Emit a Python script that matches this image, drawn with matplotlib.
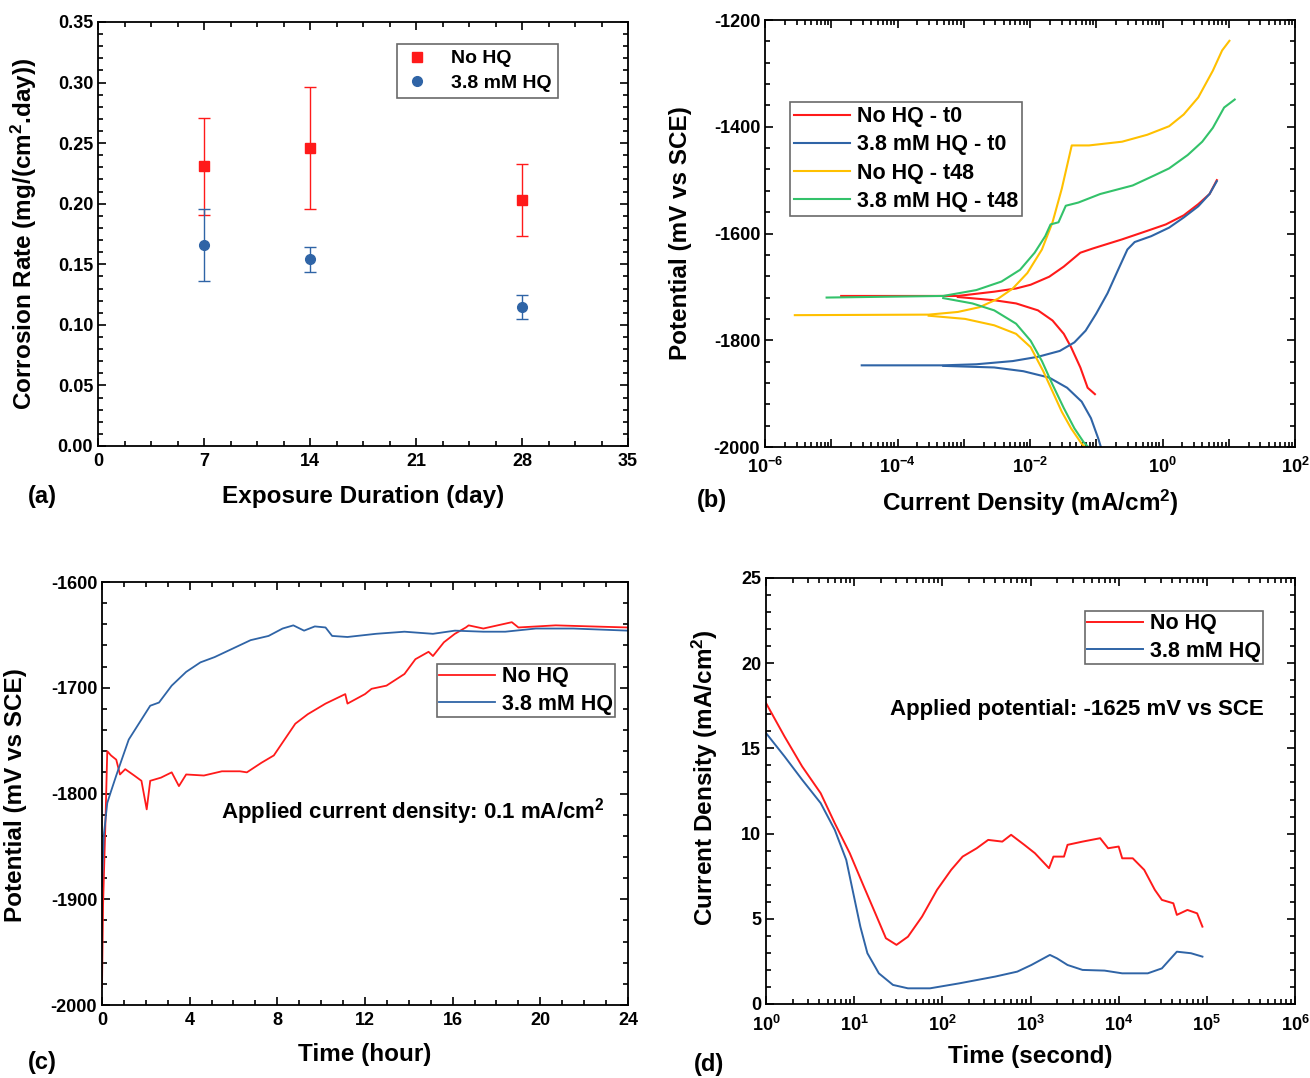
import matplotlib
matplotlib.use("Agg")
import matplotlib.pyplot as plt
import numpy as np
from matplotlib.ticker import MultipleLocator, LogLocator, NullFormatter, FixedLocator

plt.rcParams['font.family'] = ['Liberation Sans', 'DejaVu Sans']
plt.rcParams['font.weight'] = 'bold'
plt.rcParams['axes.unicode_minus'] = False
plt.rcParams['mathtext.fontset'] = 'custom'
plt.rcParams['mathtext.rm'] = 'Liberation Sans:bold'
plt.rcParams['mathtext.bf'] = 'Liberation Sans:bold'
plt.rcParams['mathtext.it'] = 'Liberation Sans:bold'
plt.rcParams['mathtext.default'] = 'rm'

RED = '#ff1a1a'
BLUE = '#2f64a6'
YELLOW = '#ffc000'
GREEN = '#33c26a'

# ---------------- Panel (a) data ----------------
days = [7, 14, 28]
rate_nohq = [0.231, 0.246, 0.203]
err_nohq = [0.040, 0.050, 0.030]
rate_hq = [0.166, 0.154, 0.115]
err_hq = [0.030, 0.010, 0.010]

# ---------------- Panel (b) data (log10 current, potential) ----------------
# No HQ - t0
b_red_an_logi = [-4.85, -3.09, -2.54, -2.21, -1.99, -1.71, -1.49, -1.24, -1.05, -0.61, -0.23, 0.05, 0.32, 0.54, 0.71, 0.82]
b_red_an_E = [-1717, -1717, -1709, -1703, -1696, -1681, -1662, -1636, -1628, -1611, -1595, -1583, -1566, -1545, -1526, -1500]
b_red_ca_logi = [-3.09, -2.54, -2.21, -1.88, -1.66, -1.49, -1.38, -1.24, -1.13, -1.02]
b_red_ca_E = [-1719, -1725, -1731, -1744, -1763, -1788, -1813, -1851, -1889, -1901]
# 3.8 mM HQ - t0
b_blue_an_logi = [-4.54, -3.31, -2.81, -2.26, -1.88, -1.55, -1.33, -1.16, -1.00, -0.83, -0.67, -0.53, -0.42, -0.17, 0.10, 0.32, 0.54, 0.71, 0.82]
b_blue_an_E = [-1847, -1847, -1845, -1839, -1831, -1820, -1804, -1782, -1750, -1712, -1668, -1630, -1616, -1605, -1589, -1570, -1549, -1526, -1502]
b_blue_ca_logi = [-3.31, -2.54, -2.10, -1.71, -1.44, -1.22, -1.08, -0.97, -0.93]
b_blue_ca_E = [-1848, -1851, -1858, -1870, -1889, -1915, -1946, -1984, -2000]
# No HQ - t48
b_yel_an_logi = [-5.55, -3.53, -3.09, -2.76, -2.48, -2.26, -2.04, -1.82, -1.66, -1.52, -1.37, -1.11, -0.61, -0.23, 0.10, 0.32, 0.54, 0.76, 0.90, 1.01]
b_yel_an_E = [-1753, -1752, -1747, -1738, -1722, -1703, -1674, -1630, -1579, -1516, -1435, -1435, -1428, -1415, -1399, -1377, -1345, -1295, -1257, -1239]
b_yel_ca_logi = [-3.53, -2.98, -2.54, -2.21, -1.99, -1.80, -1.66, -1.52, -1.38, -1.22, -1.17]
b_yel_ca_E = [-1754, -1760, -1772, -1788, -1813, -1858, -1896, -1934, -1965, -1994, -2000]
# 3.8 mM HQ - t48
b_grn_an_logi = [-5.07, -3.31, -2.81, -2.43, -2.15, -1.93, -1.77, -1.69, -1.57, -1.46, -1.27, -0.94, -0.45, -0.12, 0.10, 0.38, 0.60, 0.76, 0.93, 1.09]
b_grn_an_E = [-1720, -1717, -1706, -1690, -1668, -1636, -1605, -1583, -1579, -1548, -1542, -1526, -1510, -1491, -1478, -1453, -1428, -1402, -1364, -1349]
b_grn_ca_logi = [-3.31, -2.87, -2.54, -2.21, -1.99, -1.82, -1.66, -1.49, -1.33, -1.19, -1.12]
b_grn_ca_E = [-1721, -1731, -1744, -1769, -1801, -1839, -1883, -1927, -1965, -1991, -2000]

# ---------------- Panel (c) data ----------------
c_red_t = [0.0, 0.05, 0.16, 0.24, 0.41, 0.65, 0.82, 1.06, 1.47, 1.8, 2.04, 2.2, 2.69, 3.18, 3.51, 3.84, 4.65, 5.47, 6.29, 6.61, 7.27, 7.84, 8.33, 8.82, 9.39, 10.2, 11.1, 11.2, 12.0, 12.3, 12.98, 13.8, 14.3, 14.9, 15.1, 15.6, 16.1, 16.6, 16.73, 17.4, 18.7, 19.0, 20.7, 22.3, 24.0]
c_red_E = [-1983, -1904, -1825, -1760, -1764, -1768, -1782, -1777, -1783, -1788, -1815, -1788, -1785, -1780, -1793, -1782, -1783, -1779, -1779, -1780, -1771, -1764, -1749, -1734, -1725, -1715, -1706, -1715, -1706, -1701, -1698, -1687, -1673, -1666, -1670, -1657, -1649, -1643, -1641, -1644, -1638, -1643, -1641, -1642, -1643]
c_blue_t = [0.0, 0.08, 0.24, 0.41, 0.65, 0.9, 1.22, 1.71, 2.2, 2.6, 3.18, 3.84, 4.49, 5.14, 5.96, 6.78, 7.6, 8.24, 8.73, 9.22, 9.71, 10.2, 10.5, 11.2, 12.5, 13.8, 15.1, 16.1, 17.4, 18.4, 19.8, 21.5, 24.0]
c_blue_E = [-1888, -1840, -1809, -1798, -1783, -1768, -1749, -1733, -1717, -1714, -1698, -1685, -1676, -1671, -1663, -1655, -1651, -1644, -1641, -1646, -1642, -1643, -1651, -1652, -1649, -1647, -1649, -1646, -1647, -1647, -1644, -1644, -1646]

# ---------------- Panel (d) data (log10 time, current density) ----------------
d_red_logt = [0.0, 0.21, 0.41, 0.62, 0.78, 0.95, 1.11, 1.24, 1.36, 1.48, 1.61, 1.77, 1.94, 2.10, 2.23, 2.39, 2.52, 2.68, 2.78, 2.93, 3.05, 3.21, 3.26, 3.38, 3.42, 3.59, 3.79, 3.88, 4.00, 4.04, 4.16, 4.29, 4.41, 4.49, 4.62, 4.66, 4.78, 4.89, 4.95]
d_red_i = [17.66, 15.70, 13.94, 12.37, 10.61, 8.85, 6.89, 5.32, 3.86, 3.47, 3.95, 5.13, 6.70, 7.87, 8.65, 9.14, 9.63, 9.53, 9.93, 9.34, 8.85, 7.97, 8.65, 8.65, 9.34, 9.53, 9.73, 9.14, 9.24, 8.55, 8.55, 7.87, 6.70, 6.11, 5.91, 5.23, 5.52, 5.32, 4.54]
d_blue_logt = [0.0, 0.21, 0.41, 0.62, 0.78, 0.91, 0.99, 1.07, 1.15, 1.28, 1.44, 1.61, 1.86, 2.19, 2.60, 2.85, 3.01, 3.22, 3.30, 3.42, 3.59, 3.84, 4.04, 4.33, 4.49, 4.66, 4.82, 4.95]
d_blue_i = [15.90, 14.53, 13.16, 11.79, 10.22, 8.46, 6.50, 4.54, 2.98, 1.80, 1.12, 0.92, 0.92, 1.21, 1.61, 1.90, 2.29, 2.88, 2.68, 2.29, 2.00, 1.96, 1.80, 1.80, 2.09, 3.07, 2.98, 2.78]

W, H = 1310, 1078
fig = plt.figure(figsize=(W / 100, H / 100), dpi=100)

TICK_FS = 13
LABEL_FS = 17.5
LEG_FS = 15.5
NOTE_FS = 16


def add_ax(l, t, r, b):
    return fig.add_axes([l / W, 1 - b / H, (r - l) / W, (b - t) / H])


def style(ax, xpad=5):
    ax.tick_params(which='both', direction='in', top=True, right=True, width=1.2,
                   labelsize=TICK_FS)
    ax.tick_params(axis='x', which='both', pad=xpad)
    ax.tick_params(which='major', length=6)
    ax.tick_params(which='minor', length=3.5)
    for s in ax.spines.values():
        s.set_linewidth(1.3)
    for lab in ax.get_xticklabels() + ax.get_yticklabels():
        lab.set_fontweight('bold')


def ftext(x, y, s, size=LABEL_FS, **kw):
    fig.text(x / W, 1 - y / H, s, fontsize=size, fontweight='bold', ha='center', va='center', **kw)


def legend(ax, x, y, fs, handles=None, labels=None, **kw):
    args = (handles, labels) if handles is not None else ()
    leg = ax.legend(*args, loc='upper left', bbox_to_anchor=(x / W, 1 - y / H),
                    bbox_transform=fig.transFigure, borderaxespad=0, fancybox=False,
                    edgecolor='#444444', prop={'weight': 'bold', 'size': fs}, **kw)
    leg.get_frame().set_linewidth(1.2)
    return leg


# ---------------- Panel (a) ----------------
axa = add_ax(98, 22, 628, 446)
axa.errorbar(days, rate_nohq, yerr=err_nohq, fmt='s', color=RED, ms=7, elinewidth=1,
             capsize=4, capthick=1, label='No HQ')
axa.errorbar(days, rate_hq, yerr=err_hq, fmt='o', color=BLUE, ms=7, elinewidth=1,
             capsize=4, capthick=1, label='3.8 mM HQ')
axa.set_xlim(0, 35)
axa.set_ylim(0, 0.35)
axa.xaxis.set_major_locator(MultipleLocator(7))
axa.xaxis.set_minor_locator(MultipleLocator(1.75))
axa.yaxis.set_minor_locator(MultipleLocator(0.01))
axa.set_yticks(np.arange(0, 0.351, 0.05))
axa.set_yticklabels(['%.2f' % v for v in np.arange(0, 0.351, 0.05)])
style(axa)
handles, labels = axa.get_legend_handles_labels()
handles = [h[0] for h in handles]
legend(axa, 397, 44, 14, handles, labels, handletextpad=1.0, borderpad=0.3,
       labelspacing=0.35, handlelength=1.5)
ftext(363, 497, 'Exposure Duration (day)')
ftext(24, 234, 'Corrosion Rate (mg/(cm$^2$.day))', rotation=90)
ftext(42, 497, '(a)', size=17)

# ---------------- Panel (b) ----------------
axb = add_ax(765, 20, 1295, 447)
curves_b = [
    (b_red_an_logi, b_red_an_E, b_red_ca_logi, b_red_ca_E, RED, 'No HQ - t0'),
    (b_blue_an_logi, b_blue_an_E, b_blue_ca_logi, b_blue_ca_E, BLUE, '3.8 mM HQ - t0'),
    (b_yel_an_logi, b_yel_an_E, b_yel_ca_logi, b_yel_ca_E, YELLOW, 'No HQ - t48'),
    (b_grn_an_logi, b_grn_an_E, b_grn_ca_logi, b_grn_ca_E, GREEN, '3.8 mM HQ - t48'),
]
for an_x, an_y, ca_x, ca_y, col, lab in curves_b:
    axb.plot(10 ** np.array(an_x), an_y, color=col, lw=1.5, label=lab)
    axb.plot(10 ** np.array(ca_x), ca_y, color=col, lw=1.5)
axb.set_xscale('log')
axb.set_xlim(1e-6, 1e2)
axb.set_ylim(-2000, -1200)
axb.xaxis.set_major_locator(FixedLocator([10.0 ** k for k in range(-6, 3)]))
axb.xaxis.set_minor_locator(LogLocator(base=10, subs=np.arange(2, 10), numticks=20))
axb.xaxis.set_minor_formatter(NullFormatter())
axb.set_xticklabels(['$10^{%d}$' % k if k % 2 == 0 else '' for k in range(-6, 3)])
axb.yaxis.set_major_locator(MultipleLocator(200))
axb.yaxis.set_minor_locator(MultipleLocator(40))
style(axb, xpad=7)
legend(axb, 790, 102, LEG_FS, handletextpad=0.3, borderpad=0.2, labelspacing=0.33,
       handlelength=2.6)
ftext(1030, 503, 'Current Density (mA/cm$^2$)')
ftext(680, 233, 'Potential (mV vs SCE)', rotation=90)
ftext(712, 501, '(b)', size=17)

# ---------------- Panel (c) ----------------
axc = add_ax(102, 582, 628, 1005)
axc.plot(c_red_t, c_red_E, color=RED, lw=1.3, label='No HQ')
axc.plot(c_blue_t, c_blue_E, color=BLUE, lw=1.3, label='3.8 mM HQ')
axc.set_xlim(0, 24)
axc.set_ylim(-2000, -1600)
axc.xaxis.set_major_locator(MultipleLocator(4))
axc.xaxis.set_minor_locator(MultipleLocator(1))
axc.yaxis.set_major_locator(MultipleLocator(100))
axc.yaxis.set_minor_locator(MultipleLocator(20))
style(axc)
legend(axc, 437, 664, LEG_FS, handletextpad=0.3, borderpad=0.1, labelspacing=0.3,
       handlelength=2.6)
axc.text(5.45, -1817, 'Applied current density: 0.1 mA/cm$^2$', fontsize=NOTE_FS,
         fontweight='bold', ha='left', va='center')
ftext(365, 1055, 'Time (hour)')
ftext(16, 795, 'Potential (mV vs SCE)', rotation=90)
ftext(42, 1062, '(c)', size=17)

# ---------------- Panel (d) ----------------
axd = add_ax(766, 578, 1295, 1004)
axd.plot(10 ** np.array(d_red_logt), d_red_i, color=RED, lw=1.4, label='No HQ')
axd.plot(10 ** np.array(d_blue_logt), d_blue_i, color=BLUE, lw=1.4, label='3.8 mM HQ')
axd.set_xscale('log')
axd.set_xlim(1, 1e6)
axd.set_ylim(0, 25)
axd.xaxis.set_major_locator(FixedLocator([10.0 ** k for k in range(0, 7)]))
axd.xaxis.set_minor_locator(LogLocator(base=10, subs=np.arange(2, 10), numticks=20))
axd.xaxis.set_minor_formatter(NullFormatter())
axd.set_xticklabels(['$10^{%d}$' % k for k in range(0, 7)])
axd.yaxis.set_major_locator(MultipleLocator(5))
axd.yaxis.set_minor_locator(MultipleLocator(1))
style(axd, xpad=8)
legend(axd, 1085, 611, LEG_FS, handletextpad=0.3, borderpad=0.1, labelspacing=0.3,
       handlelength=2.6)
axd.text(10 ** 1.41, 17.3, 'Applied potential: -1625 mV vs SCE', fontsize=NOTE_FS,
         fontweight='bold', ha='left', va='center')
ftext(1030, 1057, 'Time (second)')
ftext(705, 778, 'Current Density (mA/cm$^2$)', rotation=90)
ftext(709, 1064, '(d)', size=17)

fig.savefig('out.png', dpi=100)
